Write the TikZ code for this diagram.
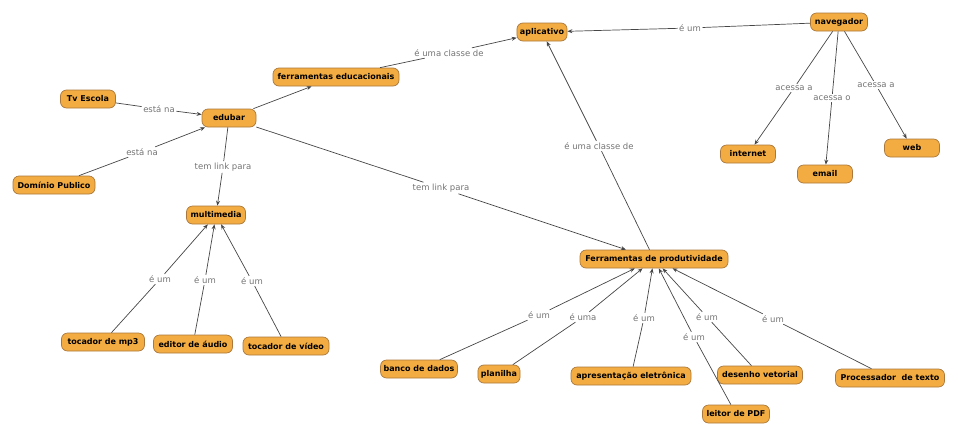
\documentclass[tikz,border=0pt]{standalone}
\usepackage{fontspec}
\setmainfont{DejaVu Sans}
\usetikzlibrary{arrows.meta}
\definecolor{nodefill}{RGB}{243,172,66}
\definecolor{nodeborder}{RGB}{170,120,60}
\definecolor{linkgray}{RGB}{70,70,70}
\definecolor{lblgray}{RGB}{115,115,115}
\begin{document}
\begin{tikzpicture}[x=1pt,y=-1pt,
 concept/.style={draw=nodeborder, line width=0.7pt, fill=nodefill, rounded corners=6pt, minimum height=18pt, inner xsep=3pt, inner ysep=0pt, font=\fontsize{8}{9}\selectfont\bfseries, text=black},
 lbl/.style={font=\fontsize{8.5}{9}\selectfont, text=lblgray, inner sep=1.5pt},
 arr/.style={draw=linkgray, line width=0.7pt, -{Stealth[length=5pt,width=4pt]}}]
\useasboundingbox (0,0) rectangle (960,437);
% concepts
\node[concept, minimum width=50pt] (aplic) at (542,32) {aplicativo};
\node[concept, minimum width=57pt] (naveg) at (839,22) {navegador};
\node[concept, minimum width=126pt] (fered) at (336,77) {ferramentas educacionais};
\node[concept, minimum width=55pt] (tv) at (88,99) {Tv Escola};
\node[concept, minimum width=54pt] (edubar) at (229,118) {edubar};
\node[concept, minimum width=82pt] (dominio) at (54,185) {Domínio Publico};
\node[concept, minimum width=59pt] (multi) at (216,215) {multimedia};
\node[concept, minimum width=55pt] (internet) at (748,154) {internet};
\node[concept, minimum width=55pt] (email) at (825,174) {email};
\node[concept, minimum width=55pt] (web) at (912,148) {web};
\node[concept, minimum width=148pt] (fprod) at (654,259) {Ferramentas de produtividade};
\node[concept, minimum width=83pt] (mp3) at (103,342) {tocador de mp3};
\node[concept, minimum width=79pt] (audio) at (193,344) {editor de áudio};
\node[concept, minimum width=86pt] (video) at (286,346) {tocador de vídeo};
\node[concept, minimum width=72pt] (banco) at (419,369) {banco de dados};
\node[concept, minimum width=38pt] (planilha) at (499,374) {planilha};
\node[concept, minimum width=120pt] (apres) at (631,376) {apresentação eletrônica};
\node[concept, minimum width=85pt] (desenho) at (760,375) {desenho vetorial};
\node[concept, minimum width=109pt] (proc) at (890,378) {Processador\ \ de texto};
\node[concept, minimum width=67pt] (pdf) at (736,414) {leitor de PDF};
% link labels
\node[lbl] (l1) at (449,53) {é uma classe de};
\node[lbl] (l2) at (690,28) {é um};
\node[lbl] (l3) at (159,109) {está na};
\node[lbl] (l4) at (142,152) {está na};
\node[lbl] (l5) at (223,167) {tem link para};
\node[lbl] (l6) at (441,188) {tem link para};
\node[lbl] (l7) at (599,146) {é uma classe de};
\node[lbl] (l8) at (794,88) {acessa a};
\node[lbl] (l9) at (832,98) {acessa o};
\node[lbl] (l10) at (876,85) {acessa a};
\node[lbl] (l11) at (160,279) {é um};
\node[lbl] (l12) at (205,280) {é um};
\node[lbl] (l13) at (252,281) {é um};
\node[lbl] (l14) at (539,315) {é um};
\node[lbl] (l15) at (583,317) {é uma};
\node[lbl] (l16) at (644,318) {é um};
\node[lbl] (l17) at (694,337) {é um};
\node[lbl] (l18) at (707,317) {é um};
\node[lbl] (l19) at (773,319) {é um};
% connectors
\draw[arr] (fered) -- (l1) -- (aplic);
\draw[arr] (naveg) -- (l2) -- (aplic);
\draw[arr] (tv) -- (l3) -- (edubar);
\draw[arr] (dominio) -- (l4) -- (edubar);
\draw[arr] (edubar) -- (l5) -- (multi);
\draw[arr] (edubar) -- (l6) -- (fprod);
\draw[arr] (edubar) -- (fered);
\draw[arr] (fprod) -- (l7) -- (aplic);
\draw[arr] (naveg) -- (l8) -- (internet);
\draw[arr] (naveg) -- (l9) -- (email);
\draw[arr] (naveg) -- (l10) -- (web);
\draw[arr] (mp3) -- (l11) -- (multi);
\draw[arr] (audio) -- (l12) -- (multi);
\draw[arr] (video) -- (l13) -- (multi);
\draw[arr] (banco) -- (l14) -- (fprod);
\draw[arr] (planilha) -- (l15) -- (fprod);
\draw[arr] (apres) -- (l16) -- (fprod);
\draw[arr] (pdf) -- (l17) -- (fprod);
\draw[arr] (desenho) -- (l18) -- (fprod);
\draw[arr] (proc) -- (l19) -- (fprod);
\end{tikzpicture}
\end{document}
